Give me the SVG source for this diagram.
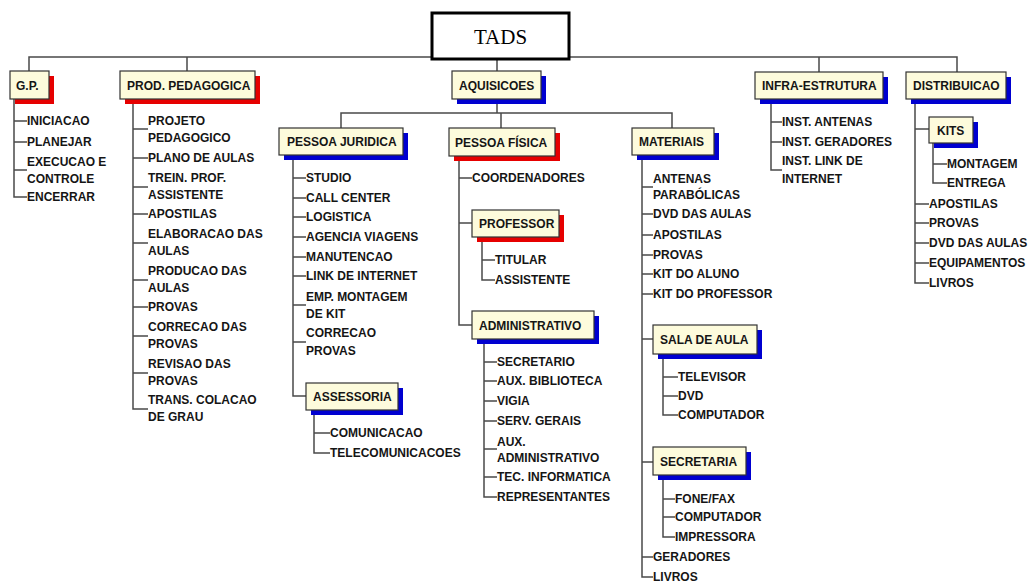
<svg xmlns="http://www.w3.org/2000/svg" width="1029" height="584" viewBox="0 0 1029 584">
<style>
.c{fill:none;stroke:#4a4a4a;stroke-width:1.5}
.b{fill:#fdfbdc;stroke:#333;stroke-width:1.2}
.sr{fill:#e60000}
.sb{fill:#0000d0}
text{font-family:"Liberation Sans",Arial,sans-serif;font-weight:bold;font-size:12px;fill:#151515}
.root{font-family:"Liberation Serif","Times New Roman",serif;font-weight:normal;font-size:21px;fill:#000}
</style>
<rect width="1029" height="584" fill="#fff"/>
<g id="connectors">
<path class="c" d="M29,71V57H957V72M187,57V71M497,57V71M819,57V72"/>
<path class="c" d="M14,99V197H27M14,121H27M14,142H27M14,170H27"/>
<path class="c" d="M133,99V409H148M133,129H148M133,158H148M133,187H148M133,214H148M133,243H148M133,280H148M133,307H148M133,336H148M133,373H148"/>
<path class="c" d="M497,99V113M341,128V113H672V128M501,113V128"/>
<path class="c" d="M293,155V396H306M293,178H306M293,198H306M293,217H306M293,237H306M293,257H306M293,276H306M293,305H306M293,342H306"/>
<path class="c" d="M314,410V453H330M314,433H330"/>
<path class="c" d="M459,156V325H472M459,178H472M459,223H472"/>
<path class="c" d="M482,237V280H495M482,260H495"/>
<path class="c" d="M484,339V497H497M484,362H497M484,381H497M484,401H497M484,421H497M484,449H497M484,477H497"/>
<path class="c" d="M642,155V577H653M642,187H653M642,214H653M642,235H653M642,255H653M642,274H653M642,294H653M642,339H653M642,462H653M642,557H653"/>
<path class="c" d="M663,354V415H678M663,377H678M663,396H678"/>
<path class="c" d="M663,475V537H675M663,499H675M663,517H675"/>
<path class="c" d="M771,99V170H782M771,122H782M771,142H782"/>
<path class="c" d="M915,99V283H929M915,129H929M915,204H929M915,223H929M915,243H929M915,263H929"/>
<path class="c" d="M933,143V183H947M933,164H947"/>
</g>
<g id="tads"><rect x="432" y="13" width="137" height="46" fill="#fff" stroke="#000" stroke-width="3"/><text class="root" x="500.5" y="44" text-anchor="middle">TADS</text></g>
<g id="gp"><rect class="sr" x="15" y="76" width="39" height="28"/><rect class="b" x="10" y="71" width="39" height="28"/><text x="16" y="89.5">G.P.</text>
<text x="27" y="125">INICIACAO</text><text x="27" y="146">PLANEJAR</text><text x="27" y="166">EXECUCAO E<tspan x="27" dy="17">CONTROLE</tspan></text><text x="27" y="201">ENCERRAR</text></g>
<g id="prod"><rect class="sr" x="125" y="76" width="135" height="28"/><rect class="b" x="120" y="71" width="135" height="28"/><text x="127" y="89.5">PROD. PEDAGOGICA</text>
<text x="148" y="125">PROJETO<tspan x="148" dy="17">PEDAGOGICO</tspan></text>
<text x="148" y="162">PLANO DE AULAS</text>
<text x="148" y="182">TREIN. PROF.<tspan x="148" dy="17">ASSISTENTE</tspan></text>
<text x="148" y="218">APOSTILAS</text>
<text x="148" y="238">ELABORACAO DAS<tspan x="148" dy="17">AULAS</tspan></text>
<text x="148" y="275">PRODUCAO DAS<tspan x="148" dy="17">AULAS</tspan></text>
<text x="148" y="311">PROVAS</text>
<text x="148" y="331">CORRECAO DAS<tspan x="148" dy="17">PROVAS</tspan></text>
<text x="148" y="368">REVISAO DAS<tspan x="148" dy="17">PROVAS</tspan></text>
<text x="148" y="404">TRANS. COLACAO<tspan x="148" dy="17">DE GRAU</tspan></text></g>
<g id="aquisicoes"><rect class="sb" x="457" y="76" width="89" height="28"/><rect class="b" x="452" y="71" width="89" height="28"/><text x="459" y="89.5">AQUISICOES</text></g>
<g id="infra"><rect class="sb" x="760" y="77" width="128" height="27"/><rect class="b" x="755" y="72" width="128" height="27"/><text x="762" y="90">INFRA-ESTRUTURA</text>
<text x="782" y="126">INST. ANTENAS</text><text x="782" y="146">INST. GERADORES</text><text x="782" y="165">INST. LINK DE<tspan x="782" dy="18">INTERNET</tspan></text></g>
<g id="distribuicao"><rect class="sb" x="911" y="77" width="100" height="27"/><rect class="b" x="906" y="72" width="100" height="27"/><text x="913" y="90">DISTRIBUICAO</text>
<text x="929" y="208">APOSTILAS</text><text x="929" y="227">PROVAS</text><text x="929" y="247">DVD DAS AULAS</text><text x="929" y="267">EQUIPAMENTOS</text><text x="929" y="287">LIVROS</text></g>
<g id="kits"><rect class="sb" x="934" y="122" width="44" height="26"/><rect class="b" x="929" y="117" width="44" height="26"/><text x="937" y="134.5">KITS</text>
<text x="947" y="168">MONTAGEM</text><text x="947" y="187">ENTREGA</text></g>
<g id="pessoa-juridica"><rect class="sb" x="284" y="133" width="124" height="27"/><rect class="b" x="279" y="128" width="124" height="27"/><text x="287" y="146">PESSOA JURIDICA</text>
<text x="306" y="182">STUDIO</text><text x="306" y="202">CALL CENTER</text><text x="306" y="221">LOGISTICA</text><text x="306" y="241">AGENCIA VIAGENS</text><text x="306" y="261">MANUTENCAO</text><text x="306" y="280">LINK DE INTERNET</text>
<text x="306" y="301">EMP. MONTAGEM<tspan x="306" dy="17">DE KIT</tspan></text>
<text x="306" y="337">CORRECAO<tspan x="306" dy="18">PROVAS</tspan></text></g>
<g id="assessoria"><rect class="sb" x="311" y="388" width="92" height="27"/><rect class="b" x="306" y="383" width="92" height="27"/><text x="313" y="401">ASSESSORIA</text>
<text x="330" y="437">COMUNICACAO</text><text x="330" y="457">TELECOMUNICACOES</text></g>
<g id="pessoa-fisica"><rect class="sr" x="454" y="133" width="106" height="28"/><rect class="b" x="449" y="128" width="106" height="28"/><text x="455" y="146.5">PESSOA FÍSICA</text>
<text x="472" y="182">COORDENADORES</text></g>
<g id="professor"><rect class="sr" x="477" y="215" width="87" height="27"/><rect class="b" x="472" y="210" width="87" height="27"/><text x="479" y="228">PROFESSOR</text>
<text x="495" y="264">TITULAR</text><text x="495" y="284">ASSISTENTE</text></g>
<g id="administrativo"><rect class="sb" x="477" y="316" width="122" height="28"/><rect class="b" x="472" y="311" width="122" height="28"/><text x="479" y="329.5">ADMINISTRATIVO</text>
<text x="497" y="366">SECRETARIO</text><text x="497" y="385">AUX. BIBLIOTECA</text><text x="497" y="405">VIGIA</text><text x="497" y="425">SERV. GERAIS</text>
<text x="497" y="446">AUX.<tspan x="497" dy="16">ADMINISTRATIVO</tspan></text><text x="497" y="481">TEC. INFORMATICA</text><text x="497" y="501">REPRESENTANTES</text></g>
<g id="materiais"><rect class="sb" x="637" y="133" width="82" height="27"/><rect class="b" x="632" y="128" width="82" height="27"/><text x="639" y="146">MATERIAIS</text>
<text x="653" y="183">ANTENAS<tspan x="653" dy="16">PARABÓLICAS</tspan></text><text x="653" y="218">DVD DAS AULAS</text><text x="653" y="239">APOSTILAS</text><text x="653" y="259">PROVAS</text><text x="653" y="278">KIT DO ALUNO</text><text x="653" y="298">KIT DO PROFESSOR</text>
<text x="653" y="561">GERADORES</text><text x="653" y="581">LIVROS</text></g>
<g id="sala-de-aula"><rect class="sb" x="658" y="330" width="104" height="29"/><rect class="b" x="653" y="325" width="104" height="29"/><text x="660" y="344">SALA DE AULA</text>
<text x="678" y="381">TELEVISOR</text><text x="678" y="400">DVD</text><text x="678" y="419">COMPUTADOR</text></g>
<g id="secretaria"><rect class="sb" x="658" y="452" width="93" height="28"/><rect class="b" x="653" y="447" width="93" height="28"/><text x="660" y="465.5">SECRETARIA</text>
<text x="675" y="503">FONE/FAX</text><text x="675" y="521">COMPUTADOR</text><text x="675" y="541">IMPRESSORA</text></g>
</svg>
